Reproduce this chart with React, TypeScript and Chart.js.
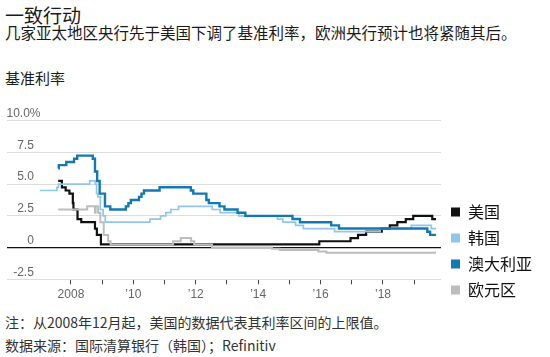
import React, { useEffect, useRef } from 'react';
import { Chart, registerables } from 'chart.js';

Chart.register(...registerables);

// ---- Data (decimal years, rate in %) ----
const seriesNames = ['美国', '韩国', '澳大利亚', '欧元区'];
const seriesColors = ['#111111', '#8fc6ea', '#1379b3', '#bdbdbd'];

const usDates = [2007.59, 2007.71, 2007.83, 2007.95, 2008.06, 2008.08, 2008.21, 2008.33, 2008.77, 2008.83, 2008.96, 2015.96, 2016.96, 2017.2, 2017.46, 2017.96, 2018.22, 2018.46, 2018.73, 2018.97, 2019.58, 2019.7];
const usRates = [5.25, 4.75, 4.5, 4.25, 3.5, 3.0, 2.25, 2.0, 1.5, 1.0, 0.25, 0.5, 0.75, 1.0, 1.25, 1.5, 1.75, 2.0, 2.25, 2.5, 2.25, 2.25];

const krDates = [2007.0, 2007.55, 2007.6, 2008.6, 2008.78, 2008.82, 2008.86, 2008.94, 2009.03, 2009.1, 2010.53, 2010.87, 2011.04, 2011.2, 2011.45, 2012.53, 2012.78, 2013.38, 2014.62, 2014.79, 2015.2, 2015.45, 2016.45, 2017.91, 2018.91, 2019.55, 2019.7];
const krRates = [4.5, 4.75, 5.0, 5.25, 5.0, 4.25, 4.0, 3.0, 2.5, 2.0, 2.25, 2.5, 2.75, 3.0, 3.25, 3.0, 2.75, 2.5, 2.25, 2.0, 1.75, 1.5, 1.25, 1.5, 1.75, 1.5, 1.5];

const auDates = [2007.59, 2007.61, 2007.85, 2008.1, 2008.2, 2008.7, 2008.77, 2008.84, 2008.92, 2009.09, 2009.26, 2009.76, 2009.84, 2009.92, 2010.18, 2010.26, 2010.34, 2010.84, 2011.84, 2011.92, 2012.34, 2012.42, 2012.76, 2012.92, 2013.34, 2013.59, 2015.1, 2015.34, 2016.34, 2016.59, 2019.42, 2019.51, 2019.7];
const auRates = [6.25, 6.5, 6.75, 7.0, 7.25, 7.0, 6.0, 5.25, 4.25, 3.25, 3.0, 3.25, 3.5, 3.75, 4.0, 4.25, 4.5, 4.75, 4.5, 4.25, 3.75, 3.5, 3.25, 3.0, 2.75, 2.5, 2.25, 2.0, 1.75, 1.5, 1.25, 1.0, 1.0];

const euDates = [2007.59, 2008.52, 2008.77, 2008.79, 2008.87, 2008.94, 2009.05, 2009.19, 2009.27, 2011.27, 2011.52, 2011.85, 2011.95, 2012.52, 2014.44, 2014.69, 2015.93, 2016.19, 2019.7];
const euRates = [3.0, 3.25, 2.75, 3.25, 2.75, 2.0, 1.0, 0.5, 0.25, 0.5, 0.75, 0.5, 0.25, 0.0, -0.1, -0.2, -0.3, -0.4, -0.4];

const xTickYears = [2008, 2009, 2010, 2011, 2012, 2013, 2014, 2015, 2016, 2017, 2018, 2019];
const xTickLabels = ['2008', '', '\u201910', '', '\u201912', '', '\u201914', '', '\u201916', '', '\u201918', ''];
const yTickValues = [-2.5, 0, 2.5, 5, 7.5, 10];
const yTickLabels = ['-2.5', '0', '2.5', '5.0', '7.5', '10.0%'];

const CJK = '"Noto Sans CJK SC", "Noto Sans", sans-serif';
const AXIS_FONT = '"Liberation Sans", Arial, sans-serif';

function toPoints(dates: number[], rates: number[]) {
  return dates.map((d, i) => ({ x: d, y: rates[i] }));
}

export default function App() {
  const canvasRef = useRef<HTMLCanvasElement | null>(null);

  useEffect(() => {
    const canvas = canvasRef.current;
    if (!canvas) return;
    const series = [
      toPoints(usDates, usRates),
      toPoints(krDates, krRates),
      toPoints(auDates, auRates),
      toPoints(euDates, euRates),
    ];
    const widths = [2.2, 1.7, 2.4, 2.0];
    const orders = [4, 2, 1, 3];
    const chart = new Chart(canvas, {
      type: 'line',
      data: {
        datasets: series.map((data, i) => ({
          label: seriesNames[i],
          data,
          borderColor: seriesColors[i],
          backgroundColor: seriesColors[i],
          borderWidth: widths[i],
          pointRadius: 0,
          pointHoverRadius: 0,
          stepped: true,
          fill: false,
          order: orders[i],
        })),
      },
      options: {
        animation: false,
        responsive: false,
        devicePixelRatio: 1,
        layout: { padding: { top: 20.7, bottom: 2, left: 7, right: 8 } },
        plugins: {
          tooltip: { enabled: false },
          title: { display: false },
          legend: {
            display: true,
            position: 'right',
            align: 'end',
            labels: {
              boxWidth: 9,
              boxHeight: 9,
              padding: 10,
              color: '#111',
              font: { family: CJK, size: 16 },
              sort: (a: any, b: any) => a.datasetIndex - b.datasetIndex,
              generateLabels: (chart: any) => {
                const items = Chart.defaults.plugins.legend.labels.generateLabels(chart);
                return items.map((it: any) => ({ ...it, lineWidth: 0, strokeStyle: 'rgba(0,0,0,0)' }));
              },
            },
          },
        },
        scales: {
          x: {
            type: 'linear',
            position: 'bottom',
            min: 2005.95,
            max: 2019.86,
            afterBuildTicks: (s: any) => {
              s.ticks = xTickYears.map((v) => ({ value: v }));
            },
            afterFit: (s: any) => {
              s.height = 28.7;
            },
            grid: {
              display: true,
              drawOnChartArea: false,
              drawTicks: true,
              tickLength: 5,
              color: '#444',
              tickColor: '#444',
            },
            border: { display: false },
            ticks: {
              autoSkip: false,
              maxRotation: 0,
              padding: 3,
              color: '#666',
              font: { family: AXIS_FONT, size: 12 },
              callback: (v: any) => {
                const i = xTickYears.indexOf(Number(v));
                return i >= 0 ? xTickLabels[i] : '';
              },
            },
          },
          y: {
            type: 'linear',
            position: 'left',
            min: -2.5,
            max: 10,
            afterBuildTicks: (s: any) => {
              s.ticks = yTickValues.map((v) => ({ value: v }));
            },
            afterFit: (s: any) => {
              s.width = 0;
            },
            grid: {
              drawTicks: false,
              color: (c: any) => (c.tick && c.tick.value === 0 ? '#111' : '#dddddd'),
              lineWidth: (c: any) => (c.tick && c.tick.value === 0 ? 1.2 : 1),
            },
            border: { display: false },
            ticks: {
              mirror: true,
              crossAlign: 'far',
              padding: -0.5,
              labelOffset: -7,
              color: '#666',
              font: { family: AXIS_FONT, size: 12 },
              callback: (v: any) => {
                const i = yTickValues.indexOf(Number(v));
                if (i < 0) return '';
                const t = yTickLabels[i];
                return t.indexOf('%') >= 0 ? t : t + '\u00a0\u00a0';
              },
            },
          },
        },
      },
    } as any);
    return () => chart.destroy();
  }, []);

  const text = (top: number, size: number, color: string, content: string) => (
    <div
      style={{
        position: 'absolute',
        left: 5,
        top,
        fontSize: size,
        lineHeight: `${size}px`,
        fontFamily: CJK,
        color,
        whiteSpace: 'nowrap',
      }}
    >
      {content}
    </div>
  );

  return (
    <div style={{ position: 'absolute', left: 0, top: 0, width: 550, height: 357, background: '#fff', overflow: 'hidden' }}>
      {text(4.5, 19, '#1a1a1a', '一致行动')}
      {text(24.5, 15.5, '#1a1a1a', '几家亚太地区央行先于美国下调了基准利率，欧洲央行预计也将紧随其后。')}
      {text(69.5, 15, '#1a1a1a', '基准利率')}
      <canvas ref={canvasRef} width={550} height={210} style={{ position: 'absolute', left: 0, top: 100, width: 550, height: 210 }} />
      {text(315, 14, '#333', '注：从2008年12月起，美国的数据代表其利率区间的上限值。')}
      {text(338, 14, '#333', '数据来源：国际清算银行（韩国）；Refinitiv')}
    </div>
  );
}
